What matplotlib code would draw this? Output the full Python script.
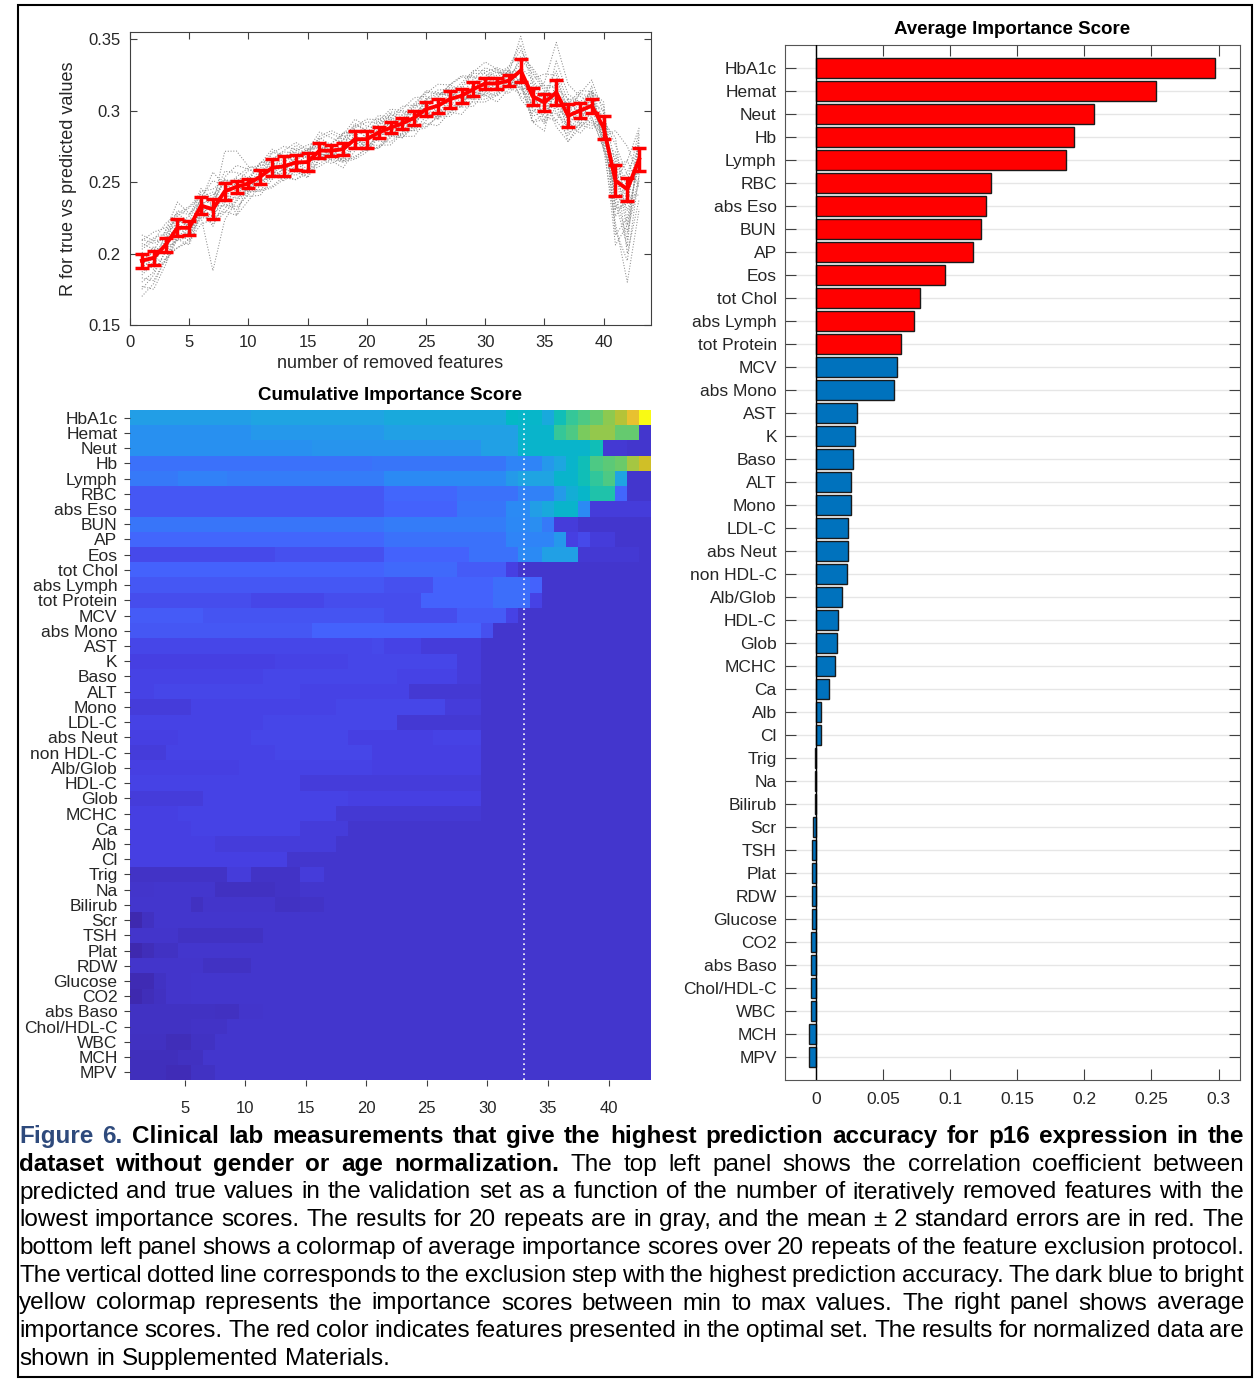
import numpy as np
import matplotlib
matplotlib.use("Agg")
import matplotlib.pyplot as plt
from matplotlib.colors import LinearSegmentedColormap
from matplotlib.patches import Rectangle

plt.rcParams['font.family'] = ['Liberation Sans', 'DejaVu Sans']

# feature names, sorted by average importance
features = ['HbA1c', 'Hemat', 'Neut', 'Hb', 'Lymph', 'RBC', 'abs Eso', 'BUN', 'AP', 'Eos',
            'tot Chol', 'abs Lymph', 'tot Protein', 'MCV', 'abs Mono', 'AST', 'K', 'Baso', 'ALT',
            'Mono', 'LDL-C', 'abs Neut', 'non HDL-C', 'Alb/Glob', 'HDL-C', 'Glob', 'MCHC', 'Ca',
            'Alb', 'Cl', 'Trig', 'Na', 'Bilirub', 'Scr', 'TSH', 'Plat', 'RDW', 'Glucose', 'CO2',
            'abs Baso', 'Chol/HDL-C', 'WBC', 'MCH', 'MPV']
n_optimal = 13

# top panel: R vs number of removed features
removed = np.arange(1, 44)
r_mean = [0.195, 0.197, 0.206, 0.218, 0.218, 0.2335, 0.231, 0.2435, 0.2467, 0.249,
          0.2537, 0.260, 0.261, 0.2637, 0.264, 0.272, 0.272, 0.273, 0.280, 0.280,
          0.2847, 0.288, 0.291, 0.295, 0.301, 0.3034, 0.308, 0.3104, 0.315, 0.319,
          0.319, 0.321, 0.328, 0.310, 0.3057, 0.3127, 0.2964, 0.300, 0.3034, 0.288,
          0.251, 0.245, 0.266]
# 2 standard errors, in units of 0.001
r_err = [5, 5, 5, 6, 5, 6, 7, 6, 4, 3, 5, 6, 7, 5, 6, 5, 4, 4, 6, 6, 4, 4, 4, 5, 5, 5,
         6, 5, 5, 4, 4, 4, 8, 6, 6, 9, 8, 5, 5, 8, 11, 8, 8]
# the 20 repeats, as offsets from the mean in units of 0.001
repeat_dev = [
    [-25, -18, -10, -6, -4, 2, 5, 8, 4, 0, -3, -6, -2, 3, 6, 9, 4, 0, -5, -8, -4, 2, 6, 10, 12, 8, 3, -2, -6, -3, 4, 9, 14, 18, 10, 4, -6, -12, -8, -15, -30, -65, -35],
    [10, 14, 8, 3, -2, -8, -43, -20, -10, -5, 2, 6, 10, 7, 3, -2, -6, -9, -4, 1, 5, 9, 6, 2, -3, -7, -10, -5, 0, 4, 8, 5, 24, 12, 3, -4, 8, 14, 10, 5, -20, -10, 15],
    [-8, -3, 4, 10, 15, 8, 2, 28, 25, 12, 5, -2, -8, -12, -6, 0, 5, 10, 14, 9, 3, -3, -8, -5, 1, 6, 10, 13, 8, 2, -4, -9, -5, 3, 14, 35, 22, 10, 2, -8, -45, -25, 5],
    [5, 2, -4, -8, -12, -6, 3, 8, 2, -4, -9, -13, -7, 1, 8, 13, 9, 4, -2, -7, -11, -6, 0, 6, 11, 15, 10, 4, -2, -8, -13, -6, 2, 12, 20, 12, 4, -5, -12, -5, 10, 20, -20],
    [15, 10, 5, 0, -5, -9, -4, 2, 7, 11, 8, 3, -2, -6, -10, -5, 1, 6, 10, 6, 1, -4, -9, -13, -8, -2, 4, 9, 13, 9, 4, -2, -10, -18, -12, -5, 5, 12, 18, 10, -35, -50, -10],
    [-15, -10, -5, 3, 8, 12, 6, -3, -8, -4, 3, 10, 14, 9, 2, -5, -9, -6, 2, 8, 12, 7, 1, -5, -10, -14, -9, -3, 3, 8, 11, 6, 0, -8, -15, -10, -2, 6, 10, 15, -15, -40, 18],
    [2, -5, -12, -8, -2, 5, 10, 6, 0, -6, -10, -5, 2, 8, 12, 6, -1, -8, -12, -7, 0, 7, 12, 9, 3, -4, -9, -13, -8, -1, 6, 10, 18, 8, -6, -15, -8, 3, 9, -3, -25, -5, -25],
    [-20, -12, -4, 5, 2, -3, -8, -12, -6, 2, 9, 13, 7, 0, -7, -11, -6, 3, 9, 14, 9, 2, -5, -9, -5, 3, 8, 5, -1, -6, -9, -3, -12, -5, 6, 15, 10, -2, -8, -14, -5, 12, 8],
    [8, 12, 15, 10, 4, -2, -12, -5, 3, 9, 5, -1, -7, -12, -8, -2, 5, 11, 7, 1, -6, -10, -6, 1, 7, 11, 7, 2, -4, -9, -6, 1, 8, 16, 8, -2, -10, -4, 4, -10, 15, -30, -15],
    [-5, 0, 6, 12, 9, 3, -3, -9, -14, -8, -1, 6, 11, 14, 9, 2, -4, -9, -14, -9, -2, 5, 10, 14, 9, 3, -3, -8, -12, -6, 1, 7, -8, -14, -6, 3, 12, 6, -2, 8, 0, 20, 22],
    [12, 6, -2, -9, -6, 1, 8, 14, 10, 4, -2, -8, -4, 3, 9, 6, -1, -7, -3, 4, 10, 6, -1, -7, -12, -8, -2, 5, 11, 7, 1, -5, -16, 2, -10, -20, -14, -6, 2, 12, -38, -20, -2],
    [-12, -16, -10, -3, 4, 10, 14, 8, 1, -5, -10, -14, -9, -2, 5, 10, 14, 9, 3, -4, -9, -12, -7, 0, 6, 9, 5, -1, -7, -11, -7, 0, 10, 20, 12, -8, -18, -12, -4, 6, 25, 10, -8],
    [0, 5, 10, 6, 0, -6, -10, -15, -9, -2, 6, 11, 7, 1, -5, -9, -4, 2, 8, 12, 7, 1, -5, -9, -13, -7, 0, 7, 12, 15, 10, 4, 4, -10, -4, 22, 15, 6, -2, -12, -10, -35, 12],
    [-2, 8, -6, -14, -10, -4, 4, 10, 15, 10, 3, -3, -10, -6, 1, 8, 12, 7, 0, -6, -11, -7, 1, 8, 13, 9, 2, -4, -9, -13, -8, -2, -6, 6, 12, 4, -4, -16, -10, -2, 5, -15, -5],
    [18, 12, 4, -4, -9, -13, -7, 0, 6, -2, -7, -3, 4, 10, 6, -1, -7, -13, -8, -1, 6, 11, 8, 2, -4, -9, -5, 1, 7, 11, 8, 3, -18, -6, 8, -14, -6, 2, 10, 18, -20, 5, 20],
    [-10, -4, 2, 8, 14, 6, 20, 4, -3, -9, -13, -8, -1, 5, 9, 4, -2, -8, -5, 2, 8, 13, 9, 3, -3, -8, -12, -7, -1, 5, 10, -2, 2, -18, -8, 0, 8, -10, -16, 4, 30, -25, -12],
    [6, -2, -10, -14, -8, 0, -6, -14, -20, -12, -6, 0, 6, 12, 8, 3, -3, -8, -13, -6, -1, -5, -10, -6, 1, 6, 10, 14, 9, 3, -2, 8, -20, -12, 4, -24, -18, -8, -14, 10, 12, -45, -28],
    [-18, -22, -14, -6, 0, 6, 12, -8, -2, 4, 10, 6, 0, -6, -11, -6, 1, 7, 11, 6, 0, -6, -10, -4, 3, 8, 4, -2, -7, -4, 2, 6, -8, -18, -20, 10, 2, 12, 6, -6, 35, 30, -12],
    [14, 18, 12, 6, 0, -5, 2, -10, -16, -6, 4, 2, -4, -9, -5, 2, -5, -2, 4, -8, -10, -4, 3, 9, -2, -6, 1, 6, -2, -8, -2, 4, -14, 10, 0, -20, 12, -4, 14, -16, 18, -10, 10],
    [0, -8, 10, 18, 10, 4, 26, 4, -20, 2, 10, 4, -2, -4, 8, -2, -4, 12, 4, -6, -2, 10, 2, -8, 8, -10, -4, -8, 4, -2, -4, 0, -12, 4, -14, 4, -12, -10, 8, -12, 20, 0, -5],
]

# bottom left: cumulative importance, position on the colour scale (0..100),
# one row per feature as (value, number of consecutive steps)
heat_runs = [
    [(36, 10), (38, 11), (40, 10), (47, 1), (46, 2), (40, 1), (50, 1), (57, 1), (60, 1), (63, 1), (68, 1), (73, 1), (81, 1), (100, 1)],
    [(32, 10), (34, 11), (37, 11), (45, 3), (57, 1), (60, 1), (66, 1), (69, 2), (63, 2), (6, 1)],
    [(32, 15), (33, 14), (37, 3), (45, 6), (50, 1), (7, 2), (6, 2)],
    [(23, 20), (24, 11), (28, 3), (34, 1), (39, 1), (45, 1), (50, 1), (60, 1), (62, 1), (64, 1), (71, 1), (76, 1)],
    [(25, 4), (27, 4), (26, 13), (30, 10), (35, 1), (38, 3), (45, 2), (50, 1), (56, 1), (60, 1), (38, 1), (6, 2)],
    [(16, 21), (20, 6), (23, 5), (27, 3), (35, 1), (42, 1), (46, 1), (53, 2), (20, 1), (6, 2)],
    [(16, 21), (19, 6), (24, 4), (30, 2), (36, 1), (40, 1), (45, 2), (30, 1), (8, 5)],
    [(24, 21), (26, 10), (29, 2), (31, 1), (25, 1), (8, 2), (6, 6)],
    [(20, 21), (23, 10), (28, 4), (34, 1), (9, 1), (12, 1), (8, 2), (6, 3)],
    [(12, 12), (14, 9), (19, 7), (23, 4), (30, 2), (37, 3), (7, 5), (6, 1)],
    [(19, 21), (21, 6), (17, 4), (9, 1), (6, 11)],
    [(16, 21), (14, 4), (19, 5), (22, 3), (19, 1), (6, 9)],
    [(13, 10), (11, 6), (13, 8), (19, 6), (22, 3), (10, 1), (6, 9)],
    [(17, 6), (15, 15), (13, 6), (17, 4), (10, 1), (6, 11)],
    [(16, 15), (19, 14), (14, 1), (6, 13)],
    [(11, 20), (12, 1), (10, 3), (8, 5), (6, 14)],
    [(9, 12), (10, 6), (11, 9), (8, 2), (6, 14)],
    [(10, 11), (11, 11), (10, 5), (8, 2), (6, 14)],
    [(10, 2), (11, 12), (10, 9), (7, 6), (6, 14)],
    [(8, 5), (10, 12), (11, 9), (8, 3), (6, 14)],
    [(10, 11), (11, 11), (7, 7), (6, 14)],
    [(9, 4), (10, 6), (11, 8), (9, 7), (10, 4), (6, 14)],
    [(8, 3), (10, 9), (11, 8), (9, 9), (6, 14)],
    [(9, 9), (10, 11), (9, 9), (6, 14)],
    [(10, 14), (8, 15), (6, 14)],
    [(8, 6), (10, 12), (9, 11), (6, 14)],
    [(9, 4), (10, 13), (7, 12), (6, 14)],
    [(9, 5), (10, 9), (8, 4), (6, 25)],
    [(9, 7), (8, 10), (6, 26)],
    [(9, 13), (6, 30)],
    [(5, 8), (8, 2), (5, 4), (8, 2), (6, 27)],
    [(5.5, 2), (6, 5), (4, 5), (5, 2), (6, 29)],
    [(6, 5), (4, 1), (5.5, 6), (4.5, 2), (5, 2), (6, 27)],
    [(1.5, 1), (4, 1), (6, 41)],
    [(5.5, 4), (4.5, 7), (6, 32)],
    [(1.5, 1), (3, 1), (4.5, 2), (6, 39)],
    [(5.5, 6), (4.5, 4), (6, 33)],
    [(2, 2), (4.5, 1), (5.5, 2), (6, 38)],
    [(1.5, 1), (3, 1), (4, 1), (5.5, 2), (6, 38)],
    [(4.5, 7), (4, 2), (5.5, 2), (6, 32)],
    [(4.5, 5), (5, 3), (6, 35)],
    [(4, 3), (3, 2), (4.5, 2), (6, 36)],
    [(3.5, 4), (4, 2), (6, 37)],
    [(3.5, 3), (2.5, 2), (4.5, 2), (6, 36)],
]
best_step = 33

# right panel: average importance score
avg_score = [0.2972, 0.2532, 0.2075, 0.1925, 0.1865, 0.1302, 0.1269, 0.1233, 0.1173, 0.0963,
             0.0779, 0.0730, 0.0634, 0.0607, 0.0580, 0.0309, 0.0290, 0.0279, 0.0260, 0.0260,
             0.0243, 0.0243, 0.0232, 0.0194, 0.0164, 0.0156, 0.0145, 0.0096, 0.0038, 0.0038,
             -0.0005, -0.0005, -0.0005, -0.0019, -0.0027, -0.0027, -0.0027, -0.0027, -0.0038,
             -0.0038, -0.0038, -0.0038, -0.0049, -0.0049]

caption_lines = [
    [("Figure 6.", "blue"), ("Clinical lab measurements that give the highest prediction accuracy for p16 expression in the", "bold")],
    [("dataset without gender or age normalization.", "bold"), ("The top left panel shows the correlation coefficient between", "normal")],
    [("predicted and true values in the validation set as a function of the number of iteratively removed features with the", "normal")],
    [("lowest importance scores. The results for 20 repeats are in gray, and the mean \u00b1 2 standard errors are in red. The", "normal")],
    [("bottom left panel shows a colormap of average importance scores over 20 repeats of the feature exclusion protocol.", "normal")],
    [("The vertical dotted line corresponds to the exclusion step with the highest prediction accuracy. The dark blue to bright", "normal")],
    [("yellow colormap represents the importance scores between min to max values. The right panel shows average", "normal")],
    [("importance scores. The red color indicates features presented in the optimal set. The results for normalized data are", "normal")],
    [("shown in Supplemented Materials.", "normal")],
]

# MATLAB parula, sampled
parula = LinearSegmentedColormap.from_list('parula', [
    (0 / 63, (0.2422, 0.1504, 0.6603)), (6 / 63, (0.2783, 0.2559, 0.8991)),
    (12 / 63, (0.2699, 0.3892, 0.9906)), (18 / 63, (0.1786, 0.5289, 0.9682)),
    (24 / 63, (0.1248, 0.6459, 0.8883)), (30 / 63, (0.0067, 0.7312, 0.7660)),
    (36 / 63, (0.2161, 0.7843, 0.5923)), (42 / 63, (0.5044, 0.7993, 0.3480)),
    (48 / 63, (0.8203, 0.7498, 0.1535)), (54 / 63, (0.9970, 0.7659, 0.2199)),
    (58 / 63, (0.9676, 0.8639, 0.1643)), (1.0, (0.9769, 0.9839, 0.0805))])

W, H = 1254, 1379
fig = plt.figure(figsize=(W / 100, H / 100), dpi=100)
txt = '#262626'
edge = '#404040'


def box(l, t, r, b):
    return [l / W, 1 - b / H, (r - l) / W, (b - t) / H]


def matlab_fmt(v):
    return ('%g' % round(v, 4))


# ---- top left panel
ax1 = fig.add_axes(box(130, 32, 651, 325))
for dev in repeat_dev:
    ax1.plot(removed, np.array(r_mean) + np.array(dev) / 1000, ':', color='0.55', lw=0.75)
ax1.errorbar(removed, r_mean, yerr=np.array(r_err) / 1000, color='red', lw=2.8,
             elinewidth=2.5, capsize=5, capthick=2.5, zorder=5)
ax1.set_xlim(0, 44)
ax1.set_ylim(0.15, 0.355)
ax1.set_xticks(range(0, 45, 5))
yt = [0.15, 0.2, 0.25, 0.3, 0.35]
ax1.set_yticks(yt)
ax1.set_yticklabels([matlab_fmt(v) for v in yt])
ax1.tick_params(direction='in', length=5, top=True, right=True, labelsize=12,
                colors=edge, labelcolor=txt, pad=7)
for s in ax1.spines.values():
    s.set_color(edge)
ax1.set_xlabel('number of removed features', fontsize=13, color=txt, labelpad=4)
ax1.set_ylabel('R for true vs predicted values', fontsize=13, color=txt, labelpad=8)

# ---- bottom left heatmap
heat = np.array([np.repeat([v for v, n in row], [n for v, n in row]) for row in heat_runs])
ax2 = fig.add_axes(box(130, 410, 651, 1080))
ax2.imshow(heat, cmap=parula, vmin=0, vmax=100, aspect='auto', interpolation='nearest',
           extent=(0.5, 43.5, 44.5, 0.5))
ax2.axvline(best_step, color='white', ls=(0, (1, 2)), lw=1.2)
ax2.set_yticks(range(1, 45))
ax2.set_yticklabels(features)
ax2.set_xticks(range(5, 41, 5))
ax2.tick_params(axis='y', direction='out', length=4, labelsize=12.5, colors=edge,
                labelcolor=txt, pad=5)
ax2.tick_params(axis='x', direction='out', length=4, labelsize=12, colors=edge,
                labelcolor=txt, pad=11)
for s in ax2.spines.values():
    s.set_visible(False)
ax2.set_title('Cumulative Importance Score', fontsize=13.5, fontweight='bold', pad=7)

# ---- right bar panel
ax3 = fig.add_axes(box(785, 45, 1240, 1080))
ypos = np.arange(1, len(features) + 1)
colors = ['#ff0000' if i < n_optimal else '#0072bd' for i in range(len(features))]
ax3.barh(ypos, avg_score, height=0.85, color=colors, edgecolor='#1a1a1a', lw=1, zorder=3)
ax3.axvline(0, color='black', lw=1, zorder=4)
ax3.set_ylim(45, 0)
ax3.set_xlim(-0.023, 0.316)
ax3.set_yticks(ypos)
ax3.set_yticklabels(features)
xt = [0, 0.05, 0.1, 0.15, 0.2, 0.25, 0.3]
ax3.set_xticks(xt)
ax3.set_xticklabels([matlab_fmt(v) for v in xt])
ax3.grid(axis='y', color='0.9', lw=1, zorder=0)
ax3.set_axisbelow(True)
ax3.tick_params(direction='in', length=8, top=True, right=True, labelsize=12.5,
                colors=edge, labelcolor=txt)
ax3.tick_params(axis='y', pad=6)
ax3.tick_params(axis='x', pad=9)
for s in ax3.spines.values():
    s.set_color('#555555')
ax3.set_title('Average Importance Score', fontsize=13.5, fontweight='bold', pad=8)

# ---- caption, justified
styles = {'blue': dict(color='#2e4a7c', fontweight='bold'),
          'bold': dict(color='black', fontweight='bold'),
          'normal': dict(color='black')}
renderer = fig.canvas.get_renderer()
x_left, x_right = 19, 1244
base0, step = 1143, 27.75
for i, line in enumerate(caption_lines):
    words = [(w, s) for seg, s in line for w in seg.split()]
    y = 1 - (base0 + i * step) / H
    size = 17.5
    while True:
        texts = [fig.text(0, y, w, fontsize=size, va='baseline', **styles[s]) for w, s in words]
        widths = [t.get_window_extent(renderer).width for t in texts]
        if i == len(caption_lines) - 1:
            gap = 0.278 * size * 100 / 72
            break
        gap = (x_right - x_left - sum(widths)) / (len(words) - 1)
        if gap >= 3.5:
            break
        for t in texts:
            t.remove()
        size -= 0.25
    x = x_left
    for t, w in zip(texts, widths):
        t.set_x(x / W)
        x += w + gap

fig.add_artist(Rectangle((18 / W, 1 - 1377 / H), (1252 - 18) / W, (1377 - 5) / H,
                         fill=False, lw=1.5, ec='black', transform=fig.transFigure))

fig.savefig('out.png', dpi=100)
